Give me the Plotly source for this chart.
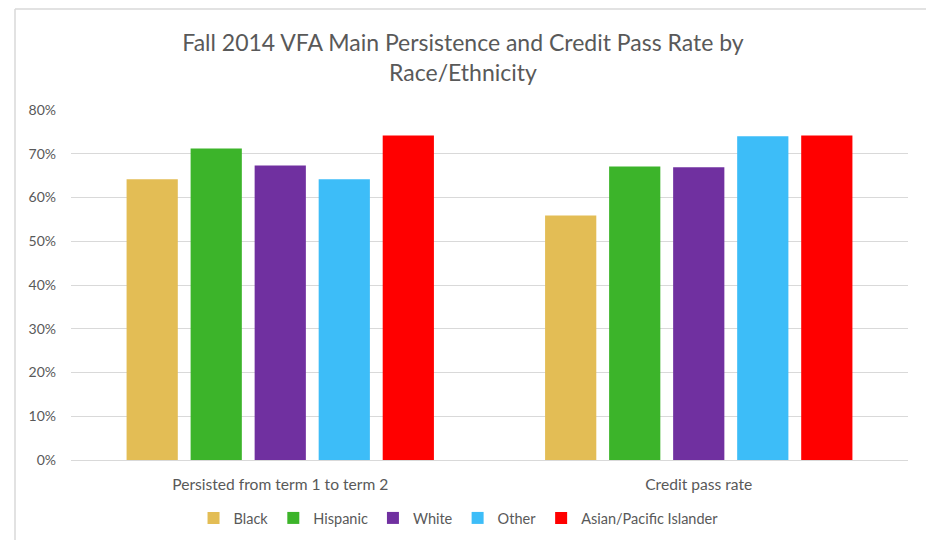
import plotly.graph_objects as go

categories = ["Persisted from term 1 to term 2", "Credit pass rate"]
series_names = ["Black", "Hispanic", "White", "Other", "Asian/Pacific Islander"]
black = [0.642, 0.559]
hispanic = [0.712, 0.671]
white = [0.673, 0.669]
other = [0.642, 0.740]
asian = [0.742, 0.742]
colors = ["#E3BD55", "#3CB42A", "#7030A0", "#3DBDF8", "#FF0000"]
y_ticks = [0, 0.1, 0.2, 0.3, 0.4, 0.5, 0.6, 0.7, 0.8]
y_tick_labels = ["0%", "10%", "20%", "30%", "40%", "50%", "60%", "70%", "80%"]

values = [black, hispanic, white, other, asian]

FONT = "Lato, Calibri, Open Sans, sans-serif"
TXT = "#595959"

fig = go.Figure()
for name, vals, col in zip(series_names, values, colors):
    fig.add_trace(go.Bar(
        x=categories, y=vals, name=name,
        marker=dict(color=col, line=dict(width=0)),
        hovertemplate="%{x}<br>" + name + ": %{y:.1%}<extra></extra>",
    ))

fig.update_layout(
    width=926, height=540,
    margin=dict(l=71, r=18, t=110, b=80, autoexpand=False),
    paper_bgcolor="white", plot_bgcolor="white",
    barmode="group", bargap=0.235, bargroupgap=0.2,
    font=dict(family=FONT, color=TXT, size=14),
    title=dict(
        text="Fall 2014 VFA Main Persistence and Credit Pass Rate by<br>Race/Ethnicity",
        x=0.5, xanchor="center", y=0.905, yanchor="middle",
        font=dict(family=FONT, size=23, color=TXT),
    ),
    showlegend=True,
    legend=dict(
        orientation="h", x=0.463, xanchor="center",
        yref="container", y=1 - 518 / 540, yanchor="middle",
        font=dict(family=FONT, size=14.5, color=TXT),
        itemwidth=30, traceorder="normal",
    ),
    xaxis=dict(
        showgrid=False, showline=True, linecolor="#d9d9d9", linewidth=1,
        ticks="", ticklabelstandoff=10,
        tickfont=dict(family=FONT, size=15.6, color=TXT),
    ),
    yaxis=dict(
        range=[0, 0.8], tickvals=y_ticks, ticktext=y_tick_labels,
        showgrid=True, gridcolor="#d9d9d9", gridwidth=1,
        zeroline=False, showline=False, ticks="",
        ticklabelstandoff=14,
        tickfont=dict(family=FONT, size=14, color=TXT),
    ),
    shapes=[
        dict(type="line", xref="paper", yref="paper",
             x0=(15 - 71) / 837, x1=(15 - 71) / 837, y0=(460 - 9) / 350, y1=(460 - 540) / 350,
             line=dict(color="#d9d9d9", width=1.5)),
        dict(type="line", xref="paper", yref="paper",
             x0=(15 - 71) / 837, x1=(926 - 71) / 837, y0=(460 - 9) / 350, y1=(460 - 9) / 350,
             line=dict(color="#d9d9d9", width=1.5)),
    ],
)

fig.write_html(
    "out.html",
    config={"displayModeBar": False},
    post_script="document.body.style.margin='0';document.body.style.overflow='hidden';",
)
